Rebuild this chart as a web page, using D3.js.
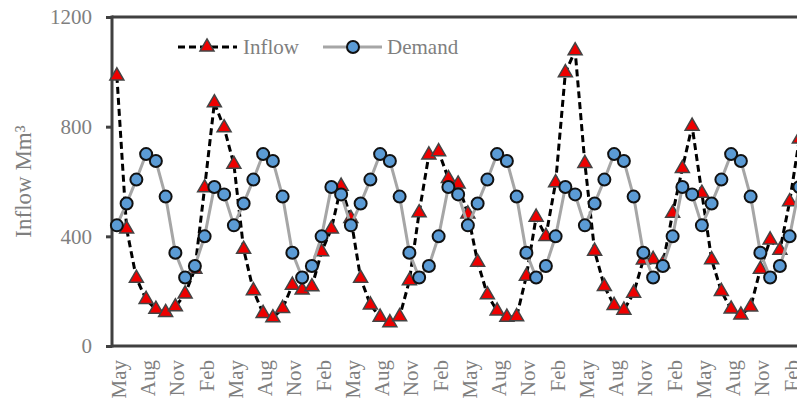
<!DOCTYPE html>
<html><head><meta charset="utf-8">
<script src="https://cdn.jsdelivr.net/npm/d3@7"></script>
<style>
html,body{margin:0;padding:0;background:#fff;overflow:hidden;}
svg{display:block;font-family:"Liberation Serif","Times New Roman",serif;}
</style></head>
<body>
<svg id="chart" width="797" height="399"></svg>
<script>
const months = ["May","Jun","Jul","Aug","Sep","Oct","Nov","Dec","Jan","Feb","Mar","Apr",
"May","Jun","Jul","Aug","Sep","Oct","Nov","Dec","Jan","Feb","Mar","Apr",
"May","Jun","Jul","Aug","Sep","Oct","Nov","Dec","Jan","Feb","Mar","Apr",
"May","Jun","Jul","Aug","Sep","Oct","Nov","Dec","Jan","Feb","Mar","Apr",
"May","Jun","Jul","Aug","Sep","Oct","Nov","Dec","Jan","Feb","Mar","Apr",
"May","Jun","Jul","Aug","Sep","Oct","Nov","Dec","Jan","Feb","Mar"];
const inflow = [985,427,247,170,134,122,143,190,280,577,887,796,
663,353,202,119,103,137,222,204,216,344,427,583,
465,247,150,105,85,107,238,486,697,709,611,591,
482,306,187,128,105,107,255,470,400,596,997,1077,
666,346,217,148,131,193,314,316,300,484,648,802,
557,315,199,135,113,142,280,387,349,526,755];
const demand = [440,520,607,700,675,545,340,250,292,400,580,553,
440,520,607,700,675,545,340,250,292,400,580,553,
440,520,607,700,675,545,340,250,292,400,580,553,
440,520,607,700,675,545,340,250,292,400,580,553,
440,520,607,700,675,545,340,250,292,400,580,553,
440,520,607,700,675,545,340,250,292,400,580];
const yTicks = [0,400,800,1200];
const yLabel = "Inflow Mm³";
const legendNames = ["Inflow","Demand"];

(function(){
const svg = d3.select("#chart");
const mLeft = 112, mTop = 17, mBottom = 346, step = 9.75;
const idx = d3.range(months.length);
const x = d3.scaleBand().domain(idx).range([mLeft, mLeft + months.length*step]);
const cx = i => x(i) + x.bandwidth()/2;
const y = d3.scaleLinear().domain([0,1200]).range([mBottom, mTop]);
const axisColor = "#404040", textColor = "#7f7f7f";

// Y axis
const ya = svg.append("g").attr("transform",`translate(${mLeft},0)`)
  .call(d3.axisLeft(y).tickValues(yTicks).tickFormat(d3.format("d")).tickSize(6).tickPadding(14).tickSizeOuter(0));
ya.select(".domain").remove();
ya.selectAll("line").attr("stroke",axisColor).attr("stroke-width",3);
ya.selectAll("text").attr("fill",textColor).attr("font-size",21)
  .attr("font-family","Liberation Serif, Times New Roman, serif");

// X axis labels
const xa = svg.append("g").attr("transform",`translate(0,${mBottom})`)
  .call(d3.axisBottom(x).tickValues(idx.filter(i=>i%3===0)).tickFormat(i=>months[i]).tickSize(0).tickSizeOuter(0));
xa.select(".domain").remove();
xa.selectAll("text").attr("fill",textColor).attr("font-size",21)
  .attr("font-family","Liberation Serif, Times New Roman, serif")
  .attr("text-anchor","end").attr("transform","rotate(-90)")
  .attr("x",-14).attr("y",0).attr("dy","0.43em");

// Frame
svg.append("line").attr("x1",mLeft).attr("x2",mLeft).attr("y1",mTop-1.5).attr("y2",mBottom+1.5)
  .attr("stroke",axisColor).attr("stroke-width",3);
svg.append("line").attr("x1",mLeft).attr("x2",x.range()[1]).attr("y1",mBottom).attr("y2",mBottom)
  .attr("stroke",axisColor).attr("stroke-width",3);
svg.append("line").attr("x1",mLeft).attr("x2",x.range()[1]).attr("y1",mTop).attr("y2",mTop)
  .attr("stroke",axisColor).attr("stroke-width",3);

// Y label
svg.append("text").attr("transform",`translate(31,${(mTop+mBottom)/2}) rotate(-90)`)
  .attr("text-anchor","middle").attr("fill",textColor).attr("font-size",23).text(yLabel);

const line = d3.line().x((d,i)=>cx(i)).y(d=>y(d));
const tri = d3.symbol().type(d3.symbolTriangle).size(85);

// Inflow
svg.append("path").datum(inflow).attr("d",line).attr("fill","none")
  .attr("stroke","#000").attr("stroke-width",3).attr("stroke-dasharray","7,4");
svg.append("g").selectAll("path").data(inflow).join("path")
  .attr("d",tri).attr("transform",(d,i)=>`translate(${cx(i)},${y(d)})`)
  .attr("fill","#ee0000").attr("stroke","#444").attr("stroke-width",1.5);

// Demand
svg.append("path").datum(demand).attr("d",line).attr("fill","none")
  .attr("stroke","#a6a6a6").attr("stroke-width",3);
svg.append("g").selectAll("circle").data(demand).join("circle")
  .attr("cx",(d,i)=>cx(i)).attr("cy",d=>y(d)).attr("r",6)
  .attr("fill","#5b9bd5").attr("stroke","#111").attr("stroke-width",2);

// Legend
const lg = svg.append("g");
lg.append("line").attr("x1",178).attr("x2",237).attr("y1",47).attr("y2",47)
  .attr("stroke","#000").attr("stroke-width",3).attr("stroke-dasharray","7,4");
lg.append("path").attr("d",tri).attr("transform","translate(207,47)")
  .attr("fill","#ee0000").attr("stroke","#444").attr("stroke-width",1.5);
lg.append("text").attr("x",243).attr("y",54).attr("fill",textColor).attr("font-size",21).text(legendNames[0]);
lg.append("line").attr("x1",323).attr("x2",382).attr("y1",47).attr("y2",47)
  .attr("stroke","#a6a6a6").attr("stroke-width",3);
lg.append("circle").attr("cx",353).attr("cy",47).attr("r",6)
  .attr("fill","#5b9bd5").attr("stroke","#111").attr("stroke-width",2);
lg.append("text").attr("x",387).attr("y",54).attr("fill",textColor).attr("font-size",21).text(legendNames[1]);
})();
</script>
</body></html>
